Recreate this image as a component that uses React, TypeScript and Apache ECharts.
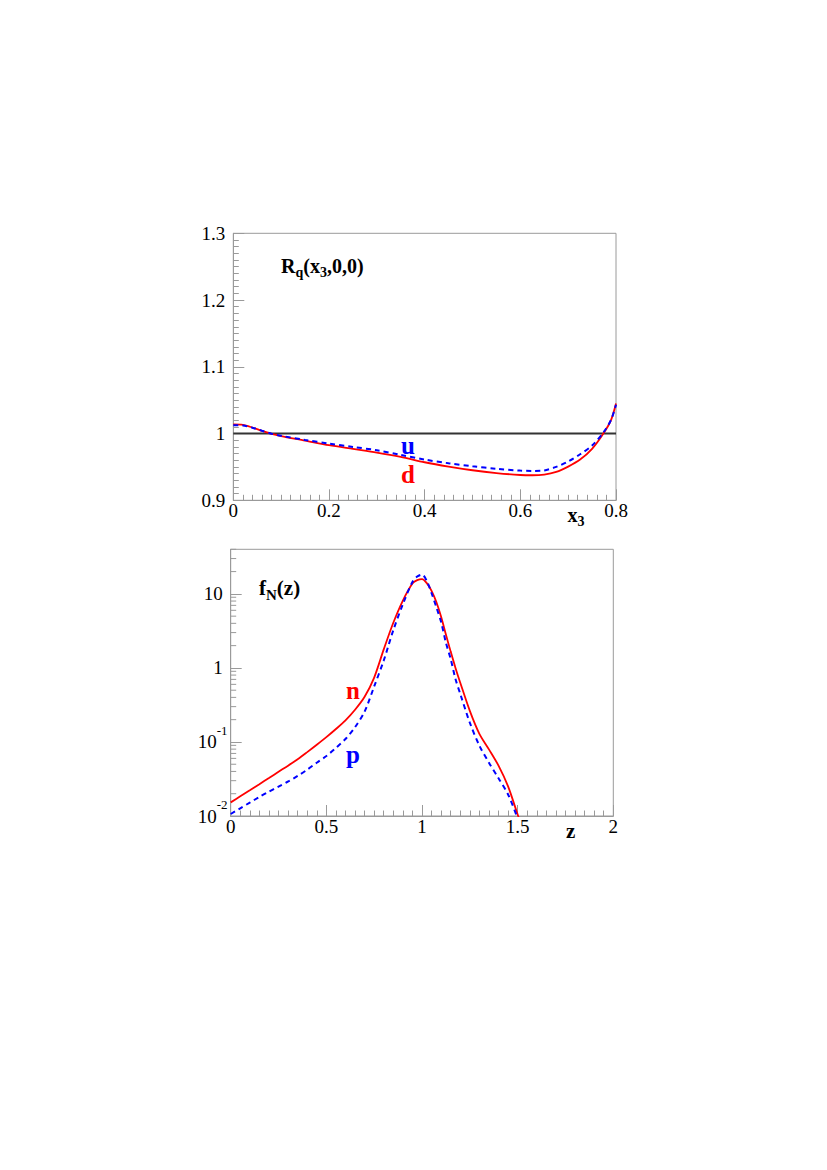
import React, { useEffect, useRef } from "react";
import * as echarts from "echarts";

// ---- Top panel: R_q(x3,0,0) ----
const topX = [0, 0.02, 0.04, 0.06, 0.08, 0.1, 0.15, 0.2, 0.25, 0.3, 0.35, 0.4, 0.45, 0.5, 0.55, 0.6, 0.625, 0.65, 0.675, 0.7, 0.725, 0.75, 0.775, 0.79, 0.8];
const topD = [1.0136, 1.013, 1.009, 1.004, 0.9995, 0.9962, 0.9895, 0.9826, 0.977, 0.9715, 0.965, 0.957, 0.9505, 0.945, 0.9408, 0.9379, 0.9375, 0.9385, 0.9425, 0.9505, 0.961, 0.977, 1.0015, 1.021, 1.045];
const topU = [1.0126, 1.0122, 1.0088, 1.0042, 0.9998, 0.9966, 0.9905, 0.985, 0.98, 0.975, 0.968, 0.961, 0.9555, 0.951, 0.9472, 0.9445, 0.944, 0.9448, 0.95, 0.958, 0.969, 0.982, 1.003, 1.021, 1.043];
const refLine = [[0, 1], [0.8, 1]];

// ---- Bottom panel: f_N(z) ----
const botZ = [0, 0.05, 0.1, 0.15, 0.2, 0.25, 0.3, 0.35, 0.4, 0.45, 0.5, 0.55, 0.6, 0.65, 0.7, 0.75, 0.8, 0.85, 0.9, 0.95, 0.975, 1.0, 1.025, 1.05, 1.075, 1.1, 1.125, 1.15, 1.175, 1.2, 1.25, 1.3, 1.35, 1.4, 1.45, 1.5, 1.51];
const botN = [0.01528, 0.01845, 0.02228, 0.02692, 0.03258, 0.03954, 0.04786, 0.05848, 0.07295, 0.09162, 0.1161, 0.1496, 0.1959, 0.2723, 0.4074, 0.7413, 1.778, 4.074, 8.128, 13.8, 15.31, 15.85, 13.96, 10.96, 7.762, 4.898, 2.818, 1.66, 1.0, 0.631, 0.263, 0.1288, 0.07943, 0.04786, 0.02512, 0.01047, 0.0089];
const botP = [0.01064, 0.01271, 0.01517, 0.01811, 0.02133, 0.02495, 0.02924, 0.03475, 0.04227, 0.05248, 0.06457, 0.08318, 0.1096, 0.1585, 0.257, 0.5623, 1.259, 3.236, 7.244, 14.45, 17.18, 18.2, 14.96, 10.23, 6.607, 4.169, 2.188, 1.318, 0.7079, 0.4467, 0.182, 0.08913, 0.05248, 0.03236, 0.0195, 0.00933, 0.00794];
const logMinorTicks = [0.02, 0.03, 0.04, 0.05, 0.06, 0.07, 0.08, 0.09, 0.2, 0.3, 0.4, 0.5, 0.6, 0.7, 0.8, 0.9, 2, 3, 4, 5, 6, 7, 8, 9, 20, 30, 40];

const SERIF = "Liberation Serif";
const GRAY = "#9a9a9a";
const RED = "#ff0000";
const BLUE = "#0000ff";

function zip(xs: number[], ys: number[]) {
  return xs.map((x, i) => [x, ys[i]]);
}

export default function App() {
  const ref = useRef<HTMLDivElement>(null);
  useEffect(() => {
    if (!ref.current) return;
    const chart = echarts.init(ref.current, null, { renderer: "svg" });

    const commonAxisLine = { show: true, lineStyle: { color: GRAY, width: 1 } };
    const labelStyle = { fontFamily: SERIF, fontSize: 19, color: "#000" };
    const majorTick = { show: true, inside: true, length: 11, lineStyle: { color: GRAY } };
    const minorTick = { show: true, splitNumber: 10, length: 5.5, lineStyle: { color: GRAY } };

    const option: any = {
      animation: false,
      grid: [
        { left: 233.3, top: 233.3, width: 382.7, height: 267, show: true, borderColor: GRAY, borderWidth: 1, backgroundColor: "transparent" },
        { left: 230.7, top: 549.3, width: 382.6, height: 266.7, show: true, borderColor: GRAY, borderWidth: 1, backgroundColor: "transparent" },
      ],
      xAxis: [
        {
          type: "value", gridIndex: 0, min: 0, max: 0.8, interval: 0.2,
          axisLine: commonAxisLine, axisTick: majorTick, minorTick,
          splitLine: { show: false },
          axisLabel: { ...labelStyle, margin: 1 },
        },
        {
          type: "value", gridIndex: 1, min: 0, max: 2, interval: 0.5,
          axisLine: commonAxisLine, axisTick: majorTick, minorTick,
          splitLine: { show: false },
          axisLabel: { ...labelStyle, margin: 1 },
        },
      ],
      yAxis: [
        {
          type: "value", gridIndex: 0, min: 0.9, max: 1.3, interval: 0.1,
          axisLine: commonAxisLine, axisTick: majorTick, minorTick,
          splitLine: { show: false },
          axisLabel: { ...labelStyle, margin: 8 },
        },
        {
          type: "log", gridIndex: 1, min: 0.01, max: 40, logBase: 10,
          axisLine: commonAxisLine, axisTick: majorTick,
          splitLine: { show: false },
          axisLabel: {
            ...labelStyle,
            margin: 8,
            showMaxLabel: false,
            formatter: (v: number) => {
              const l = Math.log10(v);
              const e = Math.round(l);
              if (Math.abs(l - e) > 1e-6) return "";
              if (e === 0) return "{b|1}";
              if (e === 1) return "{b|10}";
              return "{bb|10}{s|" + e + "}";
            },
            rich: {
              b: { fontFamily: SERIF, fontSize: 19, color: "#000", lineHeight: 40, verticalAlign: "middle" },
              bb: { fontFamily: SERIF, fontSize: 19, color: "#000", lineHeight: 40, verticalAlign: "middle", padding: [0, 5, 0, 0] },
              s: { fontFamily: SERIF, fontSize: 13, color: "#000", lineHeight: 13, verticalAlign: "middle", padding: [0, 0, 23, 0], width: 1, align: "left" },
            },
          },
        },
      ],
      series: [
        {
          type: "line", xAxisIndex: 0, yAxisIndex: 0, data: refLine, symbol: "none", silent: true,
          lineStyle: { color: "#333", width: 2 },
        },
        {
          name: "d", type: "line", xAxisIndex: 0, yAxisIndex: 0, data: zip(topX, topD), symbol: "none",
          smooth: 0.3,
          lineStyle: { color: RED, width: 1.8 },
        },
        {
          name: "u", type: "line", xAxisIndex: 0, yAxisIndex: 0, data: zip(topX, topU), symbol: "none",
          smooth: 0.3,
          lineStyle: { color: BLUE, width: 2, type: [5, 4] },
        },
        {
          name: "n", type: "line", xAxisIndex: 1, yAxisIndex: 1, data: zip(botZ, botN), symbol: "none",
          smooth: 0.3,
          lineStyle: { color: RED, width: 1.8 },
        },
        {
          name: "p", type: "line", xAxisIndex: 1, yAxisIndex: 1, data: zip(botZ, botP), symbol: "none",
          smooth: 0.3,
          lineStyle: { color: BLUE, width: 2, type: [5, 4] },
        },
        {
          type: "custom", xAxisIndex: 1, yAxisIndex: 1, silent: true, clip: false,
          data: logMinorTicks.map((v) => [0, v]),
          renderItem: (params: any, api: any) => {
            const p = api.coord([0, api.value(1)]);
            return {
              type: "line",
              shape: { x1: p[0], y1: p[1], x2: p[0] + 5.5, y2: p[1] },
              style: { stroke: GRAY, lineWidth: 1 },
            };
          },
        },
      ],
      graphic: [
        {
          type: "text", x: 281, y: 266,
          style: {
            text: "{m|R}{sb|q}{m|(x}{sb|3}{m|,0,0)}",
            align: "left", verticalAlign: "middle",
            rich: {
              m: { fontFamily: SERIF, fontWeight: "bold", fontSize: 20, lineHeight: 34, verticalAlign: "middle", fill: "#000" },
              sb: { fontFamily: SERIF, fontWeight: "bold", fontSize: 14, lineHeight: 14, padding: [13, 0, 0, 0], verticalAlign: "middle", fill: "#000" },
            },
          },
        },
        {
          type: "text", x: 259, y: 588,
          style: {
            text: "{m|f}{sb|N}{m|(z)}",
            align: "left", verticalAlign: "middle",
            rich: {
              m: { fontFamily: SERIF, fontWeight: "bold", fontSize: 21, lineHeight: 36, verticalAlign: "middle", fill: "#000" },
              sb: { fontFamily: SERIF, fontWeight: "bold", fontSize: 15, lineHeight: 15, padding: [14, 0, 0, 0], verticalAlign: "middle", fill: "#000" },
            },
          },
        },
        {
          type: "text", x: 567.5, y: 515,
          style: {
            text: "{m|x}{sb|3}",
            align: "left", verticalAlign: "middle",
            rich: {
              m: { fontFamily: SERIF, fontWeight: "bold", fontSize: 20, lineHeight: 34, verticalAlign: "middle", fill: "#000" },
              sb: { fontFamily: SERIF, fontWeight: "bold", fontSize: 14, lineHeight: 14, padding: [13, 0, 0, 0], verticalAlign: "middle", fill: "#000" },
            },
          },
        },
        {
          type: "text", x: 566, y: 831,
          style: { text: "z", fontFamily: SERIF, fontWeight: "bold", fontSize: 21, fill: "#000", align: "left", verticalAlign: "middle" },
        },
        {
          type: "text", x: 408, y: 445,
          style: { text: "u", fontFamily: SERIF, fontWeight: "bold", fontSize: 25, fill: BLUE, align: "center", verticalAlign: "middle" },
        },
        {
          type: "text", x: 408, y: 474,
          style: { text: "d", fontFamily: SERIF, fontWeight: "bold", fontSize: 25, fill: RED, align: "center", verticalAlign: "middle" },
        },
        {
          type: "text", x: 353, y: 690,
          style: { text: "n", fontFamily: SERIF, fontWeight: "bold", fontSize: 25, fill: RED, align: "center", verticalAlign: "middle" },
        },
        {
          type: "text", x: 353, y: 754.5,
          style: { text: "p", fontFamily: SERIF, fontWeight: "bold", fontSize: 25, fill: BLUE, align: "center", verticalAlign: "middle" },
        },
      ],
    };

    chart.setOption(option);
    return () => chart.dispose();
  }, []);

  return (
    <div
      ref={ref}
      style={{ position: "absolute", left: 0, top: 0, width: 827, height: 1170, background: "#fff" }}
    />
  );
}
